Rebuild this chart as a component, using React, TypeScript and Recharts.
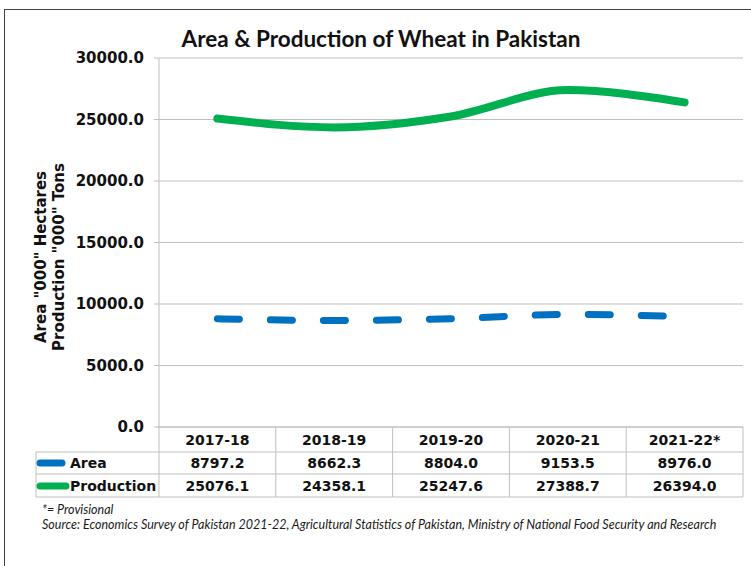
import { LineChart, Line, XAxis, YAxis, CartesianGrid } from 'recharts'

const categories = ['2017-18', '2018-19', '2019-20', '2020-21', '2021-22*']
const area = [8797.2, 8662.3, 8804.0, 9153.5, 8976.0]
const production = [25076.1, 24358.1, 25247.6, 27388.7, 26394.0]
const yTicks = [0, 5000, 10000, 15000, 20000, 25000, 30000]
const seriesNames = ['Area', 'Production']

const data = categories.map((year, i) => ({
  year,
  area: area[i],
  production: production[i],
}))

const W = 751
const H = 566
const PLOT_LEFT = 159
const PLOT_RIGHT = 743
const PLOT_TOP = 58
const PLOT_BOTTOM = 427
const COL_W = (PLOT_RIGHT - PLOT_LEFT) / categories.length
const TABLE_LEFT = 36
const GRID = '#bfbfbf'
const BLUE = '#0070c0'
const GREEN = '#00b050'
const FONT = '"DejaVu Sans", Verdana, sans-serif'
const TEXT = '#111'

// x-axis tick draws one column of the data table under the plot
function TableTick(props: any) {
  const { x, y, index, payload } = props
  const left = x - COL_W / 2
  const right = x + COL_W / 2
  const r1 = y + 25
  const r2 = y + 47
  const r3 = y + 70
  const txt = { fontFamily: FONT, fontSize: 14, fontWeight: 'bold', fill: TEXT, textAnchor: 'middle' as const, dominantBaseline: 'central' as const }
  return (
    <g>
      <line x1={right} x2={right} y1={y} y2={r3} stroke={GRID} />
      <line x1={left} x2={right} y1={r1} y2={r1} stroke={GRID} />
      <line x1={left} x2={right} y1={r2} y2={r2} stroke={GRID} />
      <line x1={left} x2={right} y1={r3} y2={r3} stroke={GRID} />
      <text x={x} y={y + 13} {...txt}>{payload.value}</text>
      <text x={x} y={r1 + 11} {...txt}>{area[index].toFixed(1)}</text>
      <text x={x} y={r2 + 12} {...txt}>{production[index].toFixed(1)}</text>
      {index === 0 && (
        <g>
          <line x1={left} x2={left} y1={y} y2={r3} stroke={GRID} />
          <line x1={TABLE_LEFT} x2={left} y1={r1} y2={r1} stroke={GRID} />
          <line x1={TABLE_LEFT} x2={left} y1={r2} y2={r2} stroke={GRID} />
          <line x1={TABLE_LEFT} x2={left} y1={r3} y2={r3} stroke={GRID} />
          <line x1={TABLE_LEFT} x2={TABLE_LEFT} y1={r1} y2={r3} stroke={GRID} />
          <line x1={40} x2={62} y1={r1 + 11} y2={r1 + 11} stroke={BLUE} strokeWidth={7} strokeLinecap="round" />
          <line x1={40} x2={66} y1={r2 + 12} y2={r2 + 12} stroke={GREEN} strokeWidth={7} strokeLinecap="round" />
          <text x={70} y={r1 + 11} {...txt} textAnchor="start">{seriesNames[0]}</text>
          <text x={70} y={r2 + 12} {...txt} textAnchor="start">{seriesNames[1]}</text>
        </g>
      )}
    </g>
  )
}

function YLabel() {
  const st = { fontFamily: FONT, fontSize: 15, fontWeight: 'bold', fill: TEXT, textAnchor: 'middle' as const, dominantBaseline: 'central' as const }
  return (
    <g transform="translate(50, 257) rotate(-90)">
      <text x={0} y={-9} {...st}>Area "000" Hectares</text>
      <text x={0} y={9} {...st}>Production "000" Tons</text>
    </g>
  )
}

export default function App() {
  return (
    <div style={{ position: 'absolute', left: 0, top: 0, width: W, height: H, overflow: 'hidden', background: '#fff' }}>
      <div style={{ position: 'absolute', left: 4, top: 9, width: W + 20, height: H + 20, border: '1px solid #404040' }} />
      <div
        style={{
          position: 'absolute', left: 0, width: 762, top: 25, textAlign: 'center',
          fontFamily: 'Lato, sans-serif', fontWeight: 'bold', fontSize: 22.5, color: TEXT,
        }}
      >
        Area &amp; Production of Wheat in Pakistan
      </div>
      <div style={{ position: 'absolute', left: 0, top: 0 }}>
        <LineChart width={W} height={H} data={data} margin={{ top: PLOT_TOP, right: W - PLOT_RIGHT, bottom: 0, left: 0 }}>
          <CartesianGrid vertical={false} stroke={GRID} />
          <XAxis
            dataKey="year"
            height={H - PLOT_BOTTOM}
            padding={{ left: COL_W / 2, right: COL_W / 2 }}
            axisLine={{ stroke: GRID }}
            tickLine={false}
            tickSize={0}
            tickMargin={0}
            interval={0}
            tick={<TableTick />}
          />
          <YAxis
            width={PLOT_LEFT}
            domain={[0, 30000]}
            ticks={yTicks}
            tickFormatter={(v: number) => v.toFixed(1)}
            axisLine={{ stroke: GRID }}
            tickLine={{ stroke: GRID }}
            tickSize={5}
            tickMargin={10}
            tick={{ fontFamily: FONT, fontSize: 15, fontWeight: 'bold', fill: TEXT }}
            label={{ content: () => <YLabel /> }}
          />
          <Line
            type="monotone"
            dataKey="area"
            stroke={BLUE}
            strokeWidth={7}
            strokeDasharray="22 31"
            strokeLinecap="round"
            dot={false}
            isAnimationActive={false}
          />
          <Line
            type="monotone"
            dataKey="production"
            stroke={GREEN}
            strokeWidth={8}
            strokeLinecap="round"
            dot={false}
            isAnimationActive={false}
          />
        </LineChart>
      </div>
      <div style={{ position: 'absolute', left: 42, top: 502, fontFamily: 'Lato, sans-serif', fontStyle: 'italic', fontSize: 12.5, color: '#1a1a1a', lineHeight: '15px' }}>
        <div>*= Provisional</div>
        <div>Source: Economics Survey of Pakistan 2021-22, Agricultural Statistics of Pakistan, Ministry of National Food Security and Research</div>
      </div>
    </div>
  )
}
